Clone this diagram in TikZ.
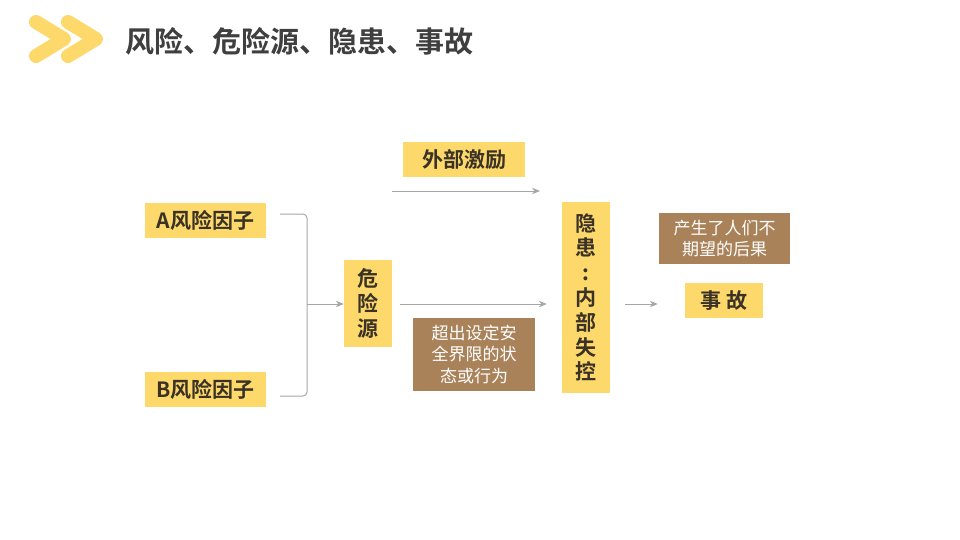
\documentclass[tikz,border=0pt]{standalone}
\usepackage{fontspec}
\usetikzlibrary{arrows.meta}
\setmainfont{Noto Sans CJK SC}
\newfontfamily\cjkbold{Noto Sans CJK SC Bold}
\definecolor{gold}{HTML}{FDD86B}
\definecolor{tan}{HTML}{A9825A}
\definecolor{ink}{HTML}{3A3226}
\definecolor{linegray}{HTML}{A6A6A6}
\definecolor{titlegray}{HTML}{3F3F3F}
\tikzset{
  goldbox/.style={fill=gold, text=ink, inner sep=0pt, font=\cjkbold\fontsize{21}{24.8}\selectfont, align=center},
  tanbox/.style={fill=tan, text=white, inner sep=0pt, font=\fontsize{17}{21.5}\selectfont, align=center},
  conn/.style={draw=linegray, line width=1pt, -{Stealth[length=8pt, width=6.5pt]}}
}
\begin{document}
\begin{tikzpicture}[x=1pt, y=-1pt]
    \useasboundingbox (0,0) rectangle (960,540);
    % header
    \draw [gold, line width=14pt, line cap=round, line join=round] (36,22) -- (64,39) -- (36,56);
    \draw [gold, line width=14pt, line cap=round, line join=round] (68,22) -- (96,39) -- (68,56);
    \node (title) at (125,41) [anchor=west, inner sep=0pt, text=titlegray, font=\cjkbold\fontsize{29}{32}\selectfont] {风险、危险源、隐患、事故};
    % boxes
    \node (fa) at (205.5,220) [goldbox, minimum width=121pt, minimum height=35pt] {A风险因子};
    \node (fb) at (205.5,389.5) [goldbox, minimum width=121pt, minimum height=35pt] {B风险因子};
    \node (src) at (368,303.5) [goldbox, minimum width=48pt, minimum height=87pt] {危\\险\\源};
    \node (ext) at (464,159.5) [goldbox, minimum width=122pt, minimum height=35pt] {外部激励};
    \node (beyond) at (474,354.5) [tanbox, minimum width=122pt, minimum height=73pt] {超出设定安\\全界限的状\\态或行为};
    \node (hid) at (586,297.5) [goldbox, minimum width=48pt, minimum height=191pt] {隐\\患\\:\\内\\部\\失\\控};
    \node (result) at (724.5,238.5) [tanbox, minimum width=131pt, minimum height=51pt] {产生了人们不\\期望的后果};
    \node (acc) at (724,300.5) [goldbox, minimum width=78pt, minimum height=35pt] {事 故};
    % connectors
    \coordinate (ja) at (307,214);
    \coordinate (jb) at (307,396);
    \coordinate (jm) at (307,304);
    \coordinate (es) at (392,191);
    \coordinate (ee) at (540,191);
    \draw [draw=linegray, line width=1pt, rounded corners=4pt] ([xshift=14pt, yshift=6pt]fa.east) -- (ja) -- (jb) -- ([xshift=14pt, yshift=-6.5pt]fb.east);
    \draw [conn] (jm) -- (jm -| src.west);
    \draw [conn, shorten <=8pt, shorten >=15pt] (src.east |- jm) -- (hid.west |- jm);
    \draw [conn] (es) -- (ee);
    \draw [conn, shorten <=15pt, shorten >=27pt] (hid.east |- jm) -- (acc.west |- jm);
\end{tikzpicture}
\end{document}
